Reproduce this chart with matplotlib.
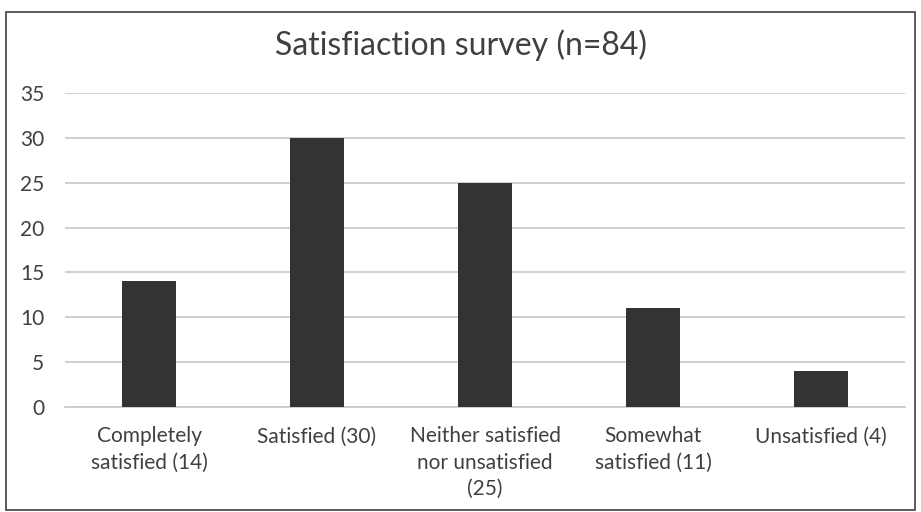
import matplotlib
matplotlib.use("Agg")
import matplotlib.pyplot as plt
from matplotlib.patches import Rectangle

categories = ["Completely\nsatisfied (14)", "Satisfied (30)", "Neither satisfied\nnor unsatisfied\n(25)",
              "Somewhat\nsatisfied (11)", "Unsatisfied (4)"]
values = [14, 30, 25, 11, 4]
yticks = [0, 5, 10, 15, 20, 25, 30, 35]
title = "Satisfiaction survey (n=84)"

plt.rcParams['font.family'] = ['Lato', 'DejaVu Sans']
W, H = 921, 512
fig = plt.figure(figsize=(W/100, H/100), dpi=100)
fig.patches.append(Rectangle((6/W, 2/H), (915-6)/W, (500-2)/H + 0.0, transform=fig.transFigure,
                             fill=False, edgecolor='#404040', linewidth=1.2))
ax = fig.add_axes([65/W, 1-407/H, (905-65)/W, (407-93)/H])
x = list(range(len(values)))
ax.bar(x, values, width=0.32, color='#333333', zorder=3)
ax.set_xlim(-0.5, len(values)-0.5)
ax.set_ylim(0, 35)
ax.set_yticks(yticks)
ax.set_yticklabels([str(t) for t in yticks], fontsize=15, color='#404040')
ax.set_xticks(x)
ax.set_xticklabels(categories, fontsize=15, color='#404040', linespacing=1.4)
ax.tick_params(axis='both', length=0)
ax.tick_params(axis='y', pad=15)
ax.tick_params(axis='x', pad=14)
ax.grid(axis='y', color='#c8c8c8', linewidth=1.2, zorder=0)
for s in ['top', 'right', 'left']:
    ax.spines[s].set_visible(False)
ax.spines['bottom'].set_color('#c8c8c8')
ax.spines['bottom'].set_linewidth(1.2)
fig.text(0.5, 1-45/H, title, ha='center', va='center', fontsize=23, color='#404040')
fig.savefig("out.png", dpi=100)
